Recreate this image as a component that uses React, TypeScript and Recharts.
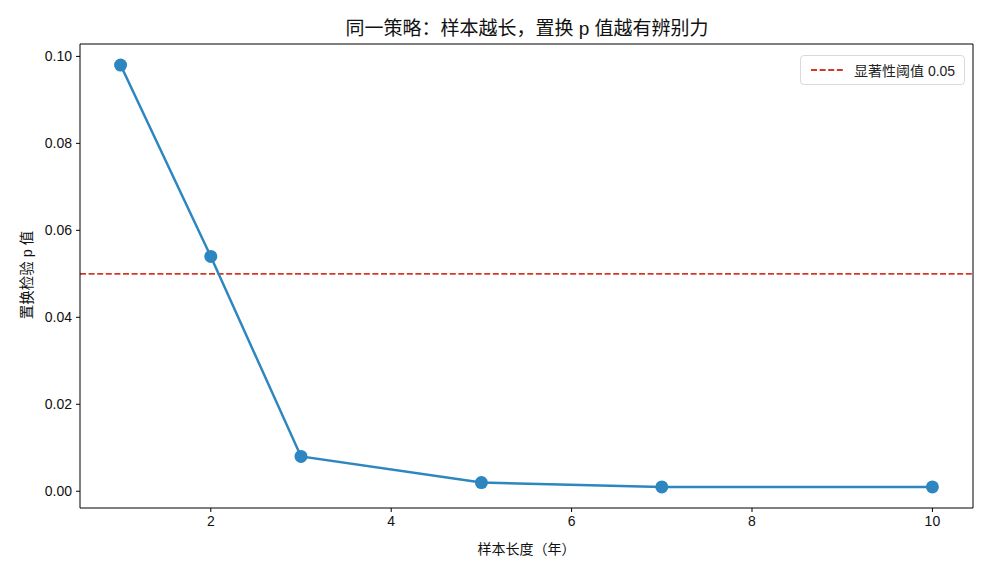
import React from "react";
import { LineChart, Line, XAxis, YAxis, ReferenceLine } from "recharts";

// 样本长度（年）与置换检验 p 值
const years = [1, 2, 3, 5, 7, 10];
const pValues = [0.098, 0.054, 0.008, 0.002, 0.001, 0.001];
const xTicks = [2, 4, 6, 8, 10];
const yTicks = [0, 0.02, 0.04, 0.06, 0.08, 0.1];
const threshold = 0.05;
const xDomain = [0.55, 10.45];
const yDomain = [-0.00385, 0.10285];

const data = years.map((y, i) => ({ year: y, p: pValues[i] }));

const FONT = "'Liberation Sans', 'Noto Sans CJK SC', sans-serif";
const LINE_COLOR = "#2e86c1";
const RED = "#d3392b";

export default function App() {
  return (
    <div style={{ position: "absolute", left: 0, top: 0, width: 990, height: 572, background: "#fff", fontFamily: FONT }}>
      <div style={{ position: "absolute", top: 13, left: 0, width: 1054, textAlign: "center", fontSize: 19, color: "#111" }}>
        同一策略：样本越长，置换 p 值越有辨别力
      </div>
      <div
        style={{
          position: "absolute",
          left: 25,
          top: 275,
          transform: "translate(-50%, -50%) rotate(-90deg)",
          fontSize: 14.5,
          whiteSpace: "nowrap",
          color: "#111",
        }}
      >
        置换检验 p 值
      </div>
      <div style={{ position: "absolute", top: 538, left: 0, width: 1053, textAlign: "center", fontSize: 14, color: "#111" }}>
        样本长度（年）
      </div>
      <LineChart width={990} height={572} data={data} margin={{ top: 44, right: 17, left: 0, bottom: 0 }}>
        <XAxis
          dataKey="year"
          type="number"
          domain={xDomain}
          ticks={xTicks}
          allowDataOverflow
          height={64}
          stroke="#000"
          tickSize={4}
          tick={{ fill: "#111", fontSize: 14, fontFamily: FONT }}
          tickMargin={4}
        />
        <YAxis
          type="number"
          domain={yDomain}
          ticks={yTicks}
          allowDataOverflow
          width={80}
          stroke="#000"
          tickSize={4}
          tickMargin={4}
          tickFormatter={(v: number) => v.toFixed(2)}
          tick={{ fill: "#111", fontSize: 14, fontFamily: FONT }}
        />
        {/* 上、右边框 */}
        <ReferenceLine y={yDomain[1]} stroke="#000" strokeWidth={1} />
        <ReferenceLine x={xDomain[1]} stroke="#000" strokeWidth={1} />
        <ReferenceLine y={threshold} stroke={RED} strokeWidth={1.8} strokeDasharray="6 2.6" />
        <Line
          dataKey="p"
          stroke={LINE_COLOR}
          strokeWidth={2.5}
          dot={{ r: 6.5, fill: LINE_COLOR, stroke: LINE_COLOR, strokeWidth: 0 }}
          activeDot={false}
          isAnimationActive={false}
        />
      </LineChart>
      <div
        style={{
          position: "absolute",
          top: 55,
          left: 800,
          border: "1px solid #d9d9d9",
          borderRadius: 4,
          background: "#fff",
          padding: "4px 9px",
          display: "flex",
          alignItems: "center",
          fontSize: 14,
          color: "#222",
        }}
      >
        <svg width={34} height={10} style={{ marginRight: 10 }}>
          <line x1={1} y1={5} x2={33} y2={5} stroke={RED} strokeWidth={1.8} strokeDasharray="6 2.6" />
        </svg>
        显著性阈值 {threshold.toFixed(2)}
      </div>
    </div>
  );
}
